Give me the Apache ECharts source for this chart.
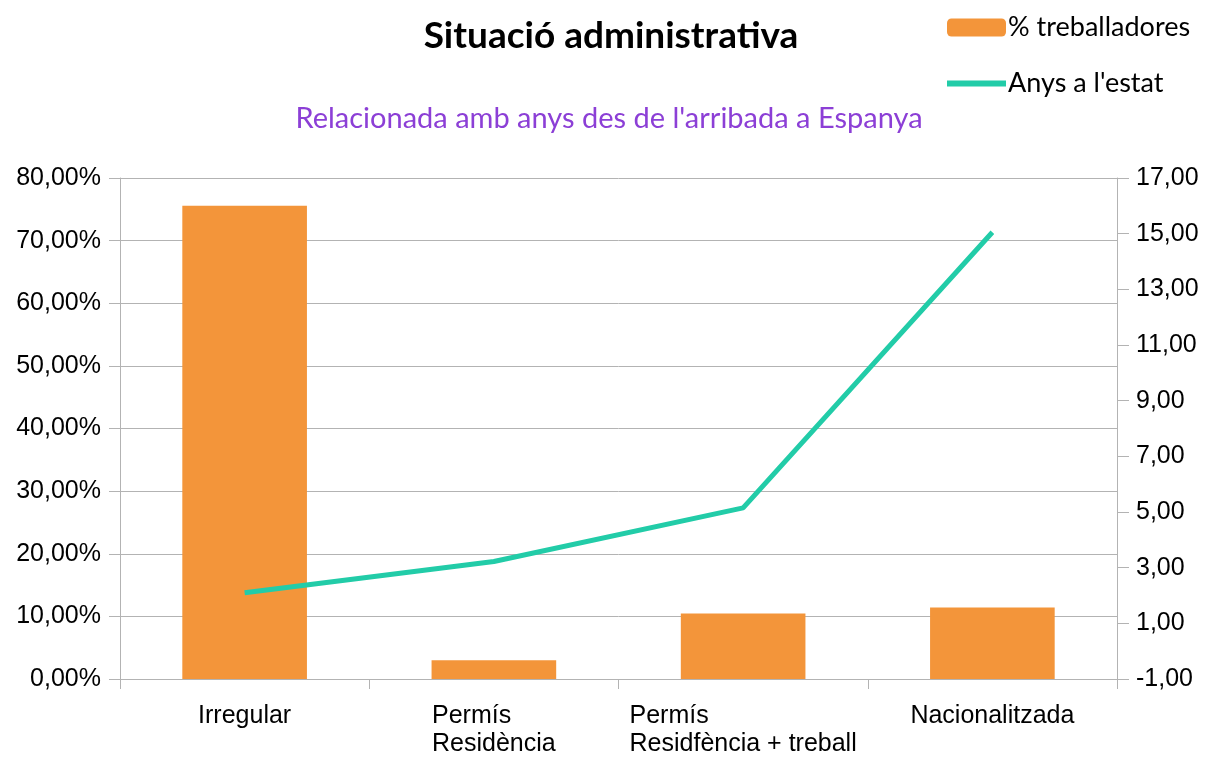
<!DOCTYPE html>
<html>
<head>
<meta charset="utf-8">
<script src="https://cdn.jsdelivr.net/npm/echarts@6/dist/echarts.min.js"></script>
<style>html,body{margin:0;padding:0;background:#fff;}#c{width:1205px;height:758px;}</style>
</head>
<body>
<div id="c"></div>
<script>
const categories = ["Irregular", "Permís\nResidència", "Permís\nResidfència + treball", "Nacionalitzada"];
const pctWorkers = [75.55, 3.0, 10.45, 11.4];
const yearsInState = [2.1, 3.22, 5.15, 15.05];
const rightTicks = [-1, 1, 3, 5, 7, 9, 11, 13, 15, 17];

const chart = echarts.init(document.getElementById('c'));
const fmt = (v, d) => v.toFixed(d).replace('.', ',');
const gridCol = '#b3b3b3';
chart.setOption({
  animation: false,
  backgroundColor: '#fff',
  title: [
    { text: 'Situació administrativa', left: 606, top: 13, textAlign: 'center',
      textStyle: { fontFamily: 'Lato', fontWeight: 'bold', fontSize: 37, color: '#000' } },
    { text: "Relacionada amb anys des de l'arribada a Espanya", left: 604, top: 99, textAlign: 'center',
      textStyle: { fontFamily: 'Lato', fontWeight: 'normal', fontSize: 29, color: '#8c3fd6' } }
  ],
  legend: {
    orient: 'vertical', left: 942, top: 9, itemWidth: 59, itemHeight: 18, itemGap: 29,
    textStyle: { fontFamily: 'Lato', fontSize: 27, lineHeight: 26, color: '#000', padding: [0,0,0,-3] },
    data: [
      { name: '% treballadores' },
      { name: 'Anys a l\'estat', icon: 'path://M0,0L59,0L59,6L0,6Z' }
    ]
  },
  grid: { left: 120, right: 88, top: 178, bottom: 75, containLabel: false },
  xAxis: {
    type: 'category', data: categories, boundaryGap: true,
    axisLine: { lineStyle: { color: gridCol, width: 1 } },
    axisTick: { show: true, alignWithLabel: false, interval: 0, length: 10, lineStyle: { color: gridCol } },
    axisLabel: {
      interval: 0, margin: 23, color: '#000', fontFamily: 'Liberation Sans', fontSize: 25, lineHeight: 28,
      align: 'center',
      formatter: v => v.split('\n').map(s => '{l|' + s + '}').join('\n'),
      rich: { l: { align: 'left', fontFamily: 'Liberation Sans', fontSize: 25, lineHeight: 28, color: '#000' } }
    }
  },
  yAxis: [
    { type: 'value', min: 0, max: 80, interval: 10, position: 'left',
      axisLine: { show: true, lineStyle: { color: gridCol } },
      axisTick: { show: true, length: 11, lineStyle: { color: gridCol } },
      splitLine: { show: true, lineStyle: { color: gridCol } },
      axisLabel: { margin: 19, color: '#000', fontFamily: 'Liberation Sans', fontSize: 25,
        formatter: v => fmt(v, 2) + '%' } },
    { type: 'value', min: -1, max: 17, position: 'right',
      axisLine: { show: true, lineStyle: { color: gridCol } },
      axisTick: { show: true, length: 12, customValues: rightTicks, lineStyle: { color: gridCol } },
      splitLine: { show: false },
      axisLabel: { margin: 19, color: '#000', fontFamily: 'Liberation Sans', fontSize: 25,
        customValues: rightTicks, formatter: v => fmt(v, 2) } }
  ],
  series: [
    { name: '% treballadores', type: 'bar', data: pctWorkers, barWidth: '50%',
      itemStyle: { color: '#f3953a' } },
    { name: 'Anys a l\'estat', type: 'line', yAxisIndex: 1, data: yearsInState,
      symbol: 'none', lineStyle: { color: '#22cca8', width: 5 }, itemStyle: { color: '#22cca8' } }
  ]
});
</script>
</body>
</html>
